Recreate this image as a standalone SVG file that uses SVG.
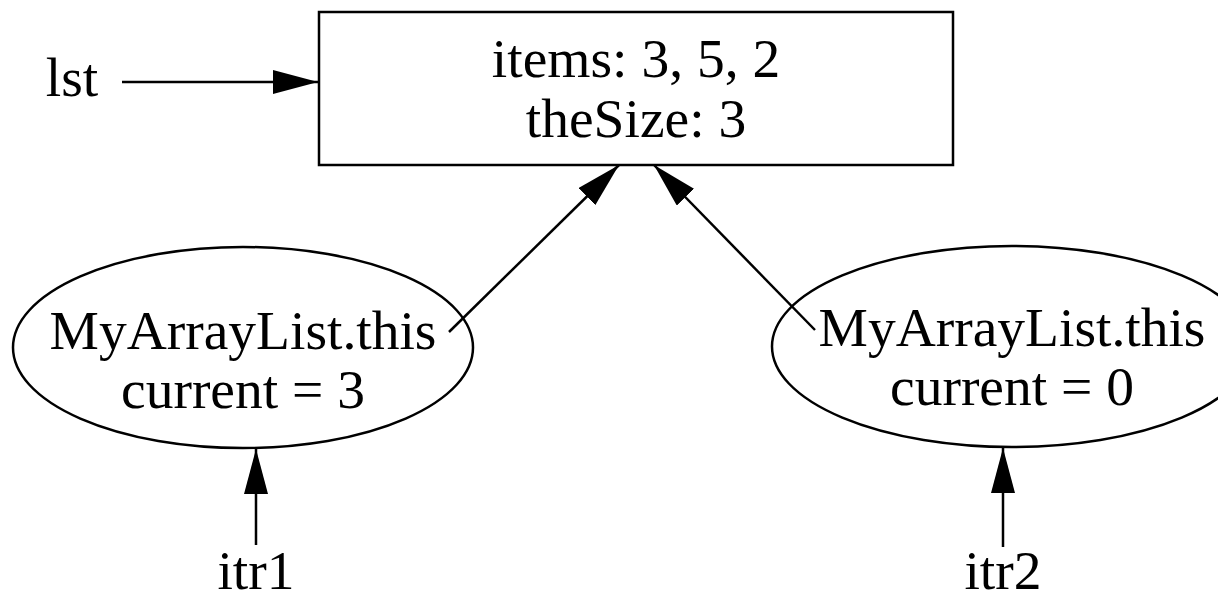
<svg xmlns="http://www.w3.org/2000/svg" width="1218" height="592" viewBox="0 0 1218 592">
<style>
text{font-family:"Liberation Serif","Times New Roman",serif;font-size:55.5px;fill:#000;text-anchor:middle}
.shape{fill:none;stroke:#000;stroke-width:2.5}
.edge{fill:none;stroke:#000;stroke-width:2.5}
</style>
<defs>
<marker id="ah" viewBox="0 0 45 24" refX="45" refY="12" markerWidth="45" markerHeight="24" markerUnits="userSpaceOnUse" orient="auto">
<path d="M0,0 L45,12 L0,24 Z" fill="#000"/>
</marker>
</defs>
<rect width="1218" height="592" fill="#fff"/>
<g id="lst"><text x="72" y="96">lst</text></g>
<g id="list"><rect class="shape" x="319" y="12" width="634" height="153" stroke-width="3"/>
<text x="636" y="77">items: 3, 5, 2</text>
<text x="636" y="137">theSize: 3</text></g>
<g id="it1"><ellipse class="shape" cx="243" cy="347.5" rx="230" ry="100.5"/>
<text x="243" y="349">MyArrayList.this</text>
<text x="243" y="408">current = 3</text></g>
<g id="it2"><ellipse class="shape" cx="1012" cy="346.5" rx="240" ry="100.5"/>
<text x="1012" y="346">MyArrayList.this</text>
<text x="1012" y="405">current = 0</text></g>
<g id="itr1"><text x="256" y="589">itr1</text></g>
<g id="itr2"><text x="1003" y="589">itr2</text></g>
<g id="connectors">
<line class="edge" x1="122" y1="82" x2="318" y2="82" marker-end="url(#ah)"/>
<line class="edge" x1="449" y1="332" x2="619" y2="165" marker-end="url(#ah)"/>
<line class="edge" x1="815" y1="330" x2="654" y2="165" marker-end="url(#ah)"/>
<line class="edge" x1="256" y1="545" x2="256" y2="449" marker-end="url(#ah)"/>
<line class="edge" x1="1003" y1="547" x2="1003" y2="448" marker-end="url(#ah)"/>
</g>
</svg>
